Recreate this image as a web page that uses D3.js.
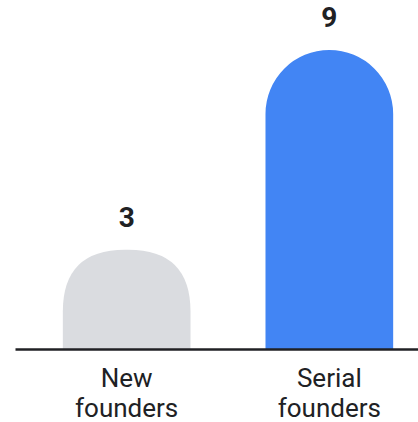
<!DOCTYPE html>
<html>
<head>
<meta charset="utf-8">
<script src="https://cdn.jsdelivr.net/npm/d3@7/dist/d3.min.js"></script>
<style>
  html, body { margin: 0; padding: 0; background: #fff; }
  svg { display: block; }
  text { font-family: Roboto, "Open Sans", sans-serif; fill: #202124; }
</style>
</head>
<body>
<svg id="chart" width="418" height="422"></svg>
<script>
// Founder counts by type
const categories = ["New founders", "Serial founders"];
const labelLines = [["New", "founders"], ["Serial", "founders"]];
const values = [3, 9];
const colors = ["#dadce0", "#4285f4"];

const baseline = 349.5;
const plotTop = 50;

const svg = d3.select("#chart");

const x = d3.scaleBand()
  .domain(categories)
  .range([15, 441])
  .paddingInner(0.37)
  .paddingOuter(0.236);

const y = d3.scaleLinear()
  .domain([0, 9])
  .range([baseline, plotTop]);

// Bar with rounded top corners, flat bottom on the baseline
function barPath(x0, w, yTop, yBot, r) {
  const rr = Math.min(r, w / 2, yBot - yTop);
  const p = d3.path();
  p.moveTo(x0, yBot);
  p.lineTo(x0, yTop + rr);
  p.quadraticCurveTo(x0, yTop, x0 + rr, yTop);
  p.lineTo(x0 + w - rr, yTop);
  p.quadraticCurveTo(x0 + w, yTop, x0 + w, yTop + rr);
  p.lineTo(x0 + w, yBot);
  p.closePath();
  return p.toString();
}

function semiPath(x0, w, yTop, yBot) {
  const r = w / 2;
  const p = d3.path();
  p.moveTo(x0, yBot);
  p.lineTo(x0, yTop + r);
  p.arc(x0 + r, yTop + r, r, Math.PI, 2 * Math.PI);
  p.lineTo(x0 + w, yBot);
  p.closePath();
  return p.toString();
}

const data = categories.map((c, i) => ({ c, v: values[i], color: colors[i], lines: labelLines[i] }));

svg.selectAll("path.bar")
  .data(data)
  .join("path")
  .attr("class", "bar")
  .attr("fill", d => d.color)
  .attr("d", d => {
    const x0 = x(d.c), w = x.bandwidth();
    const yt = y(d.v);
    return (baseline - yt) >= w / 2 + 40
      ? semiPath(x0, w, yt, baseline)
      : barPath(x0, w, yt, baseline, 62);
  });

// value labels
svg.selectAll("text.val")
  .data(data)
  .join("text")
  .attr("class", "val")
  .attr("x", d => x(d.c) + x.bandwidth() / 2)
  .attr("y", d => y(d.v) - 23)
  .attr("text-anchor", "middle")
  .attr("font-size", 28)
  .attr("font-weight", 700)
  .text(d => d.v);

// baseline axis
const axis = d3.axisBottom(x).tickSize(0).tickFormat("");
const ax = svg.append("g").attr("transform", `translate(0,${baseline})`).call(axis);
ax.select(".domain").attr("stroke", "#202124").attr("stroke-width", 2.5).attr("d", "M15.5,0H418");

// category labels
const lab = svg.selectAll("text.cat")
  .data(data)
  .join("text")
  .attr("class", "cat")
  .attr("text-anchor", "middle")
  .attr("font-size", 26)
  .attr("transform", d => `translate(${x(d.c) + x.bandwidth() / 2},387)`);
lab.selectAll("tspan")
  .data(d => d.lines)
  .join("tspan")
  .attr("x", 0)
  .attr("dy", (d, i) => i === 0 ? 0 : 30)
  .text(d => d);
</script>
</body>
</html>
